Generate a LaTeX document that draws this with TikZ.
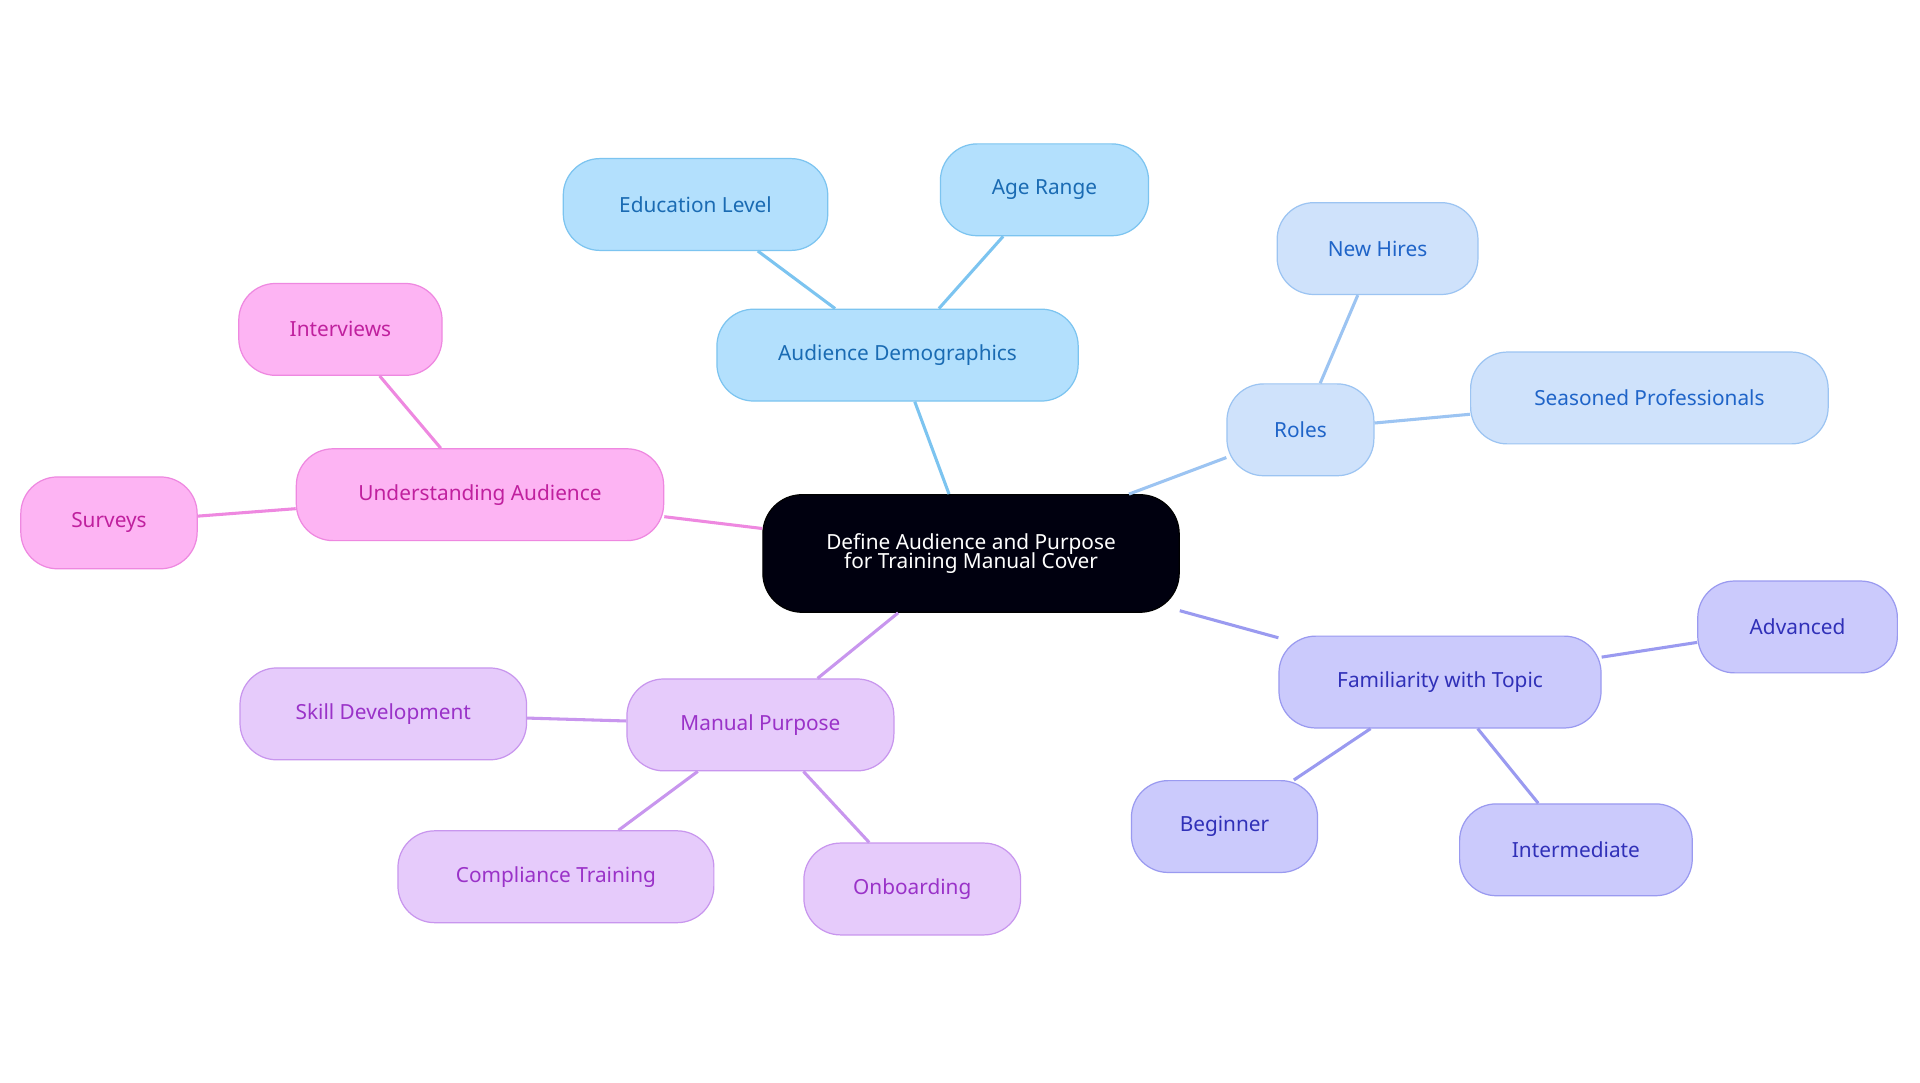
\documentclass[tikz,border=0pt]{standalone}
\usepackage{fontspec}
\setmainfont{Noto Sans}
\begin{document}
\begin{tikzpicture}[x=1pt,y=-1pt,
 box/.style={draw,line width=1pt,rounded corners=30pt,minimum height=75pt,inner sep=0pt,font=\fontsize{17}{19}\selectfont},
 cA/.style={box,fill=cAf,draw=cAd,text=cAt},
 cB/.style={box,fill=cBf,draw=cBd,text=cBt},
 cC/.style={box,fill=cCf,draw=cCd,text=cCt},
 cD/.style={box,fill=cDf,draw=cDd,text=cDt},
 cE/.style={box,fill=cEf,draw=cEd,text=cEt},
 ln/.style={line width=2.5pt}]
\definecolor{cAf}{HTML}{B3E0FD}\definecolor{cAd}{HTML}{7CC4F0}\definecolor{cAt}{HTML}{1A6BB3}
\definecolor{cBf}{HTML}{CFE2FB}\definecolor{cBd}{HTML}{9CC4F2}\definecolor{cBt}{HTML}{1F64C8}
\definecolor{cCf}{HTML}{CBCAFC}\definecolor{cCd}{HTML}{9A9AF0}\definecolor{cCt}{HTML}{3030B8}
\definecolor{cDf}{HTML}{E6CBFB}\definecolor{cDd}{HTML}{C896EE}\definecolor{cDt}{HTML}{9A32C8}
\definecolor{cEf}{HTML}{FDB4F3}\definecolor{cEd}{HTML}{EE88E0}\definecolor{cEt}{HTML}{C0209E}
\useasboundingbox[fill=white] (0,0) rectangle (1568,884);
\node[box,fill=black!90!blue!60!black,draw=black,text=white,minimum width=340pt,minimum height=96pt,align=center,rounded corners=32pt] (c) at (793,452) {Define Audience and Purpose\\[-3pt]for Training Manual Cover};
\node[cA,minimum width=295pt] (ad) at (733,290) {Audience Demographics};
\node[cA,minimum width=216pt] (el) at (568,167) {Education Level};
\node[cA,minimum width=170pt] (ar) at (853,155) {Age Range};
\node[cB,minimum width=120pt] (ro) at (1062,351) {Roles};
\node[cB,minimum width=164pt] (nh) at (1125,203) {New Hires};
\node[cB,minimum width=292pt] (sp) at (1347,325) {Seasoned Professionals};
\node[cC,minimum width=263pt] (ft) at (1176,557) {Familiarity with Topic};
\node[cC,minimum width=163pt] (av) at (1468,512) {Advanced};
\node[cC,minimum width=152pt] (be) at (1000,675) {Beginner};
\node[cC,minimum width=190pt] (in) at (1287,694) {Intermediate};
\node[cD,minimum width=218pt] (mp) at (621,592) {Manual Purpose};
\node[cD,minimum width=234pt] (sd) at (313,583) {Skill Development};
\node[cD,minimum width=258pt] (ct) at (454,716) {Compliance Training};
\node[cD,minimum width=177pt] (ob) at (745,726) {Onboarding};
\node[cE,minimum width=300pt] (ua) at (392,404) {Understanding Audience};
\node[cE,minimum width=166pt] (iv) at (278,269) {Interviews};
\node[cE,minimum width=144pt] (sv) at (89,427) {Surveys};
\begin{scope}[on background layer/.try]
\end{scope}
\begin{pgfinterruptboundingbox}\end{pgfinterruptboundingbox}
\draw[ln,cAd] (c) -- (ad); \draw[ln,cAd] (ad) -- (el); \draw[ln,cAd] (ad) -- (ar);
\draw[ln,cBd] (c) -- (ro); \draw[ln,cBd] (ro) -- (nh); \draw[ln,cBd] (ro) -- (sp);
\draw[ln,cCd] (c) -- (ft); \draw[ln,cCd] (ft) -- (av); \draw[ln,cCd] (ft) -- (be); \draw[ln,cCd] (ft) -- (in);
\draw[ln,cDd] (c) -- (mp); \draw[ln,cDd] (mp) -- (sd); \draw[ln,cDd] (mp) -- (ct); \draw[ln,cDd] (mp) -- (ob);
\draw[ln,cEd] (c) -- (ua); \draw[ln,cEd] (ua) -- (iv); \draw[ln,cEd] (ua) -- (sv);
\end{tikzpicture}
\end{document}
